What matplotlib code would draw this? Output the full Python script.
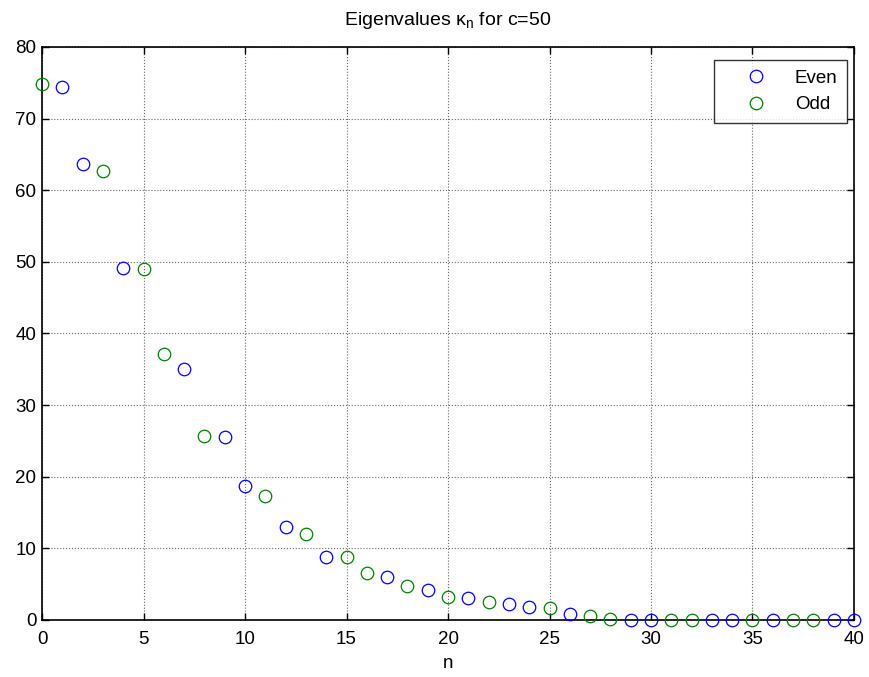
import matplotlib
matplotlib.use("Agg")
import matplotlib.pyplot as plt

plt.rcParams['font.family'] = ['Liberation Sans', 'DejaVu Sans']
plt.rcParams['mathtext.fontset'] = 'custom'
plt.rcParams['mathtext.rm'] = 'Liberation Sans'
plt.rcParams['mathtext.it'] = 'Liberation Sans'
plt.rcParams['mathtext.bf'] = 'Liberation Sans:bold'

even_n = [1, 2, 4, 7, 9, 10, 12, 14, 17, 19, 21, 23, 24, 26, 29, 30, 33, 34, 36, 39, 40]
even_vals = [74.4, 63.6, 49.2, 35.1, 25.5, 18.7, 13.05, 8.8, 6.06, 4.15, 3.08, 2.28, 1.82,
             0.8, 0.05, 0.0, 0.0, 0.0, 0.0, 0.0, 0.0]
odd_n = [0, 3, 5, 6, 8, 11, 13, 15, 16, 18, 20, 22, 25, 27, 28, 31, 32, 35, 37, 38]
odd_vals = [74.8, 62.75, 49.0, 37.2, 25.7, 17.25, 12.0, 8.8, 6.5, 4.8, 3.26, 2.47, 1.63,
            0.6, 0.15, 0.0, 0.0, 0.0, 0.0, 0.0]
x_ticks = [0, 5, 10, 15, 20, 25, 30, 35, 40]
y_ticks = [0, 10, 20, 30, 40, 50, 60, 70, 80]

fig = plt.figure(figsize=(8.7, 6.77), dpi=100)
ax = fig.add_axes([0.0483, 0.0842, 0.9333, 0.8464])

ax.plot(even_n, even_vals, 'o', mfc='none', mec=(0, 0, 1), ms=9, mew=0.9,
        linestyle='none', label='Even', clip_on=False, zorder=3)
ax.plot(odd_n, odd_vals, 'o', mfc='none', mec=(0, 0.5, 0), ms=9, mew=0.9,
        linestyle='none', label='Odd', clip_on=False, zorder=3)

ax.set_xlim(0, 40)
ax.set_ylim(0, 80)
ax.set_xticks(x_ticks)
ax.set_yticks(y_ticks)
ax.tick_params(direction='in', top=True, right=True, labelsize=13.5, length=5, width=1)
ax.tick_params(axis='x', pad=8)
ax.tick_params(axis='y', pad=4)
ax.grid(True, linestyle=':', color='#666666', linewidth=0.8)
for s in ax.spines.values():
    s.set_linewidth(1.2)
    s.set_color('black')

ax.set_title(r'Eigenvalues $\kappa_n$ for c=50', fontsize=14, pad=16)
ax.set_xlabel('n', fontsize=13.5, labelpad=5)

leg = ax.legend(loc='upper right', fontsize=13.5, frameon=True, fancybox=False,
                edgecolor='black', borderpad=0.5, handletextpad=0.35, labelspacing=0.5,
                handlelength=3.47,
                bbox_to_anchor=(0.9914, 0.977), borderaxespad=0.0)
leg.get_frame().set_linewidth(1.0)

fig.savefig('out.png', dpi=100)
